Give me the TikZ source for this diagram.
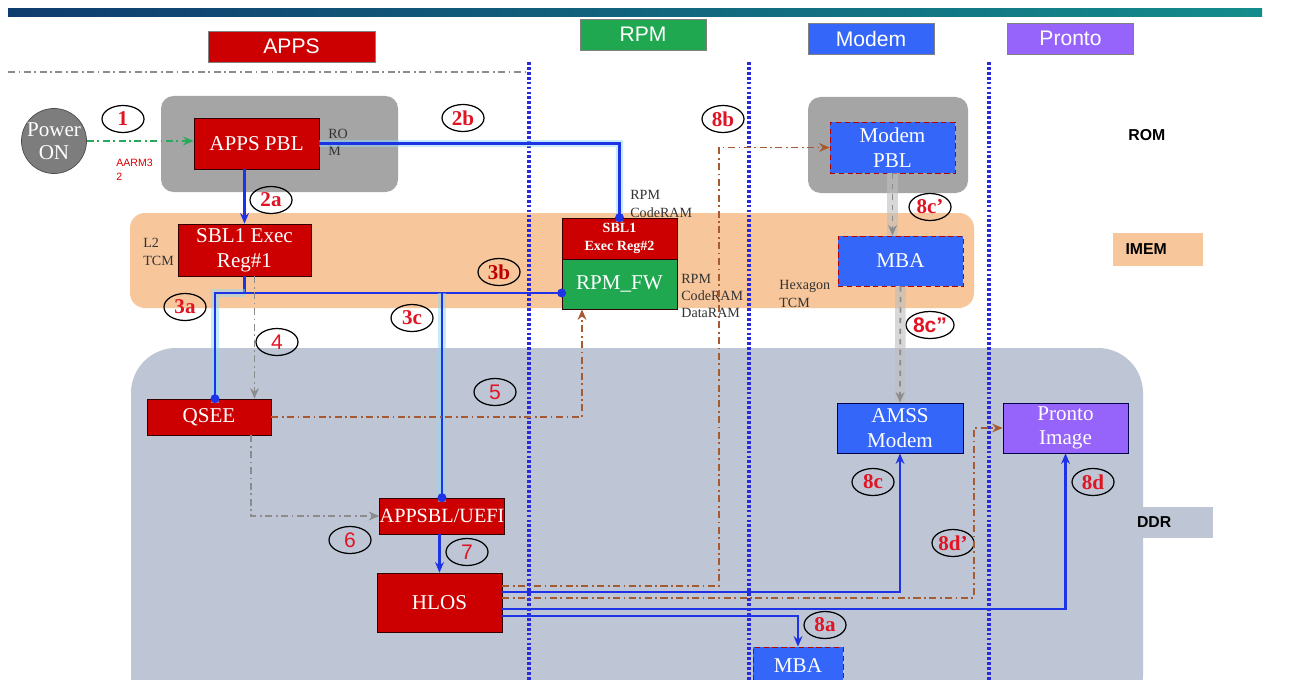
\documentclass[tikz,border=0pt]{standalone}
\usepackage{fontspec}
\setmainfont{Liberation Serif}
\setsansfont{Liberation Sans}
\usetikzlibrary{shapes.geometric,arrows.meta}

\definecolor{appsred}{RGB}{204,0,0}
\definecolor{rpmgreen}{RGB}{32,168,80}
\definecolor{modemblue}{RGB}{52,102,250}
\definecolor{prontopurple}{RGB}{150,100,250}
\definecolor{romgray}{RGB}{165,165,165}
\definecolor{powergray}{RGB}{125,125,125}
\definecolor{imemorange}{RGB}{247,198,155}
\definecolor{ddrgray}{RGB}{190,198,214}
\definecolor{flowbrown}{RGB}{165,90,50}
\definecolor{flowgreen}{RGB}{40,170,90}
\definecolor{flowblue}{RGB}{30,50,230}
\definecolor{lanedot}{RGB}{40,40,220}
\definecolor{barleft}{RGB}{15,60,110}
\definecolor{barright}{RGB}{20,140,140}
\definecolor{numred}{RGB}{225,20,35}

\begin{document}
\begin{tikzpicture}[x=0.02cm, y=-0.02cm]

% definitions
\tikzstyle{header} = [rectangle, minimum width=2.52cm, minimum height=0.62cm, draw=black!50, text=white, font=\sffamily\fontsize{12}{14}\selectfont]

\tikzstyle{redbox} = [rectangle, minimum width=2.5cm, inner sep=1pt, draw=black!80!red, fill=appsred, text=white, align=center, font=\fontsize{12}{14}\selectfont]

\tikzstyle{bluebox} = [rectangle, minimum width=2.5cm, minimum height=1cm, inner sep=1pt, draw=red!70!black, densely dashed, fill=modemblue, text=white, align=center, font=\fontsize{12}{14}\selectfont]

\tikzstyle{ddrbox} = [rectangle, minimum width=2.5cm, minimum height=1cm, inner sep=1pt, draw=black!70!blue, text=white, align=center, font=\fontsize{12}{14}\selectfont]

\tikzstyle{stepno} = [ellipse, draw=black, line width=0.7pt, minimum width=0.84cm, minimum height=0.54cm, inner sep=0pt, text=numred, font=\bfseries\fontsize{12}{12}\selectfont]

\tikzstyle{stepsans} = [stepno, font=\sffamily\fontsize{12}{12}\selectfont]

\tikzstyle{memo} = [inner sep=0pt, anchor=west, align=left, text=black!80, font=\fontsize{8}{10}\selectfont]

\tikzstyle{tier} = [inner sep=0pt, anchor=west, font=\sffamily\bfseries\fontsize{9}{10}\selectfont]

\tikzstyle{lane} = [draw=lanedot, line width=2pt, dash pattern=on 1.6pt off 1.2pt]

\tikzstyle{arrow} = [->,>={Stealth[length=6pt,width=5pt]}]

\tikzstyle{bus} = [draw=flowblue, line width=1.2pt]

\tikzstyle{glow} = [preaction={draw=cyan!45, line width=4.5pt, opacity=0.5, arrows=-}]

\tikzstyle{blobend} = [-{Circle[length=5pt]}, shorten >=-2.5pt]

\tikzstyle{dashdot} = [dash pattern=on 4pt off 2pt on 1pt off 2pt]

\tikzstyle{brownflow} = [draw=flowbrown, line width=0.9pt, dashdot, arrow]

\tikzstyle{grayflow} = [draw=black!45, line width=0.9pt, dashdot, arrow]

\tikzstyle{modemflow} = [draw=black!45, line width=1pt, dashed, arrow, preaction={draw=black!25, line width=6pt, opacity=0.6, arrows=-}]

\useasboundingbox (0,0) rectangle (1290,679);
\clip (0,0) rectangle (1290,679);
\fill [white] (0,0) rectangle (1290,679);


% memory regions
\fill [ddrgray, rounded corners=0.9cm] (131,348) rectangle (1143,720);
\fill [imemorange, rounded corners=0.3cm] (130,213) rectangle (974,308);
\fill [romgray, rounded corners=0.25cm] (161,96) rectangle (398,192);
\fill [romgray, rounded corners=0.25cm] (808,97) rectangle (968,193);

\node (romtag) [tier] at (1128,135) {ROM};
\node (imemtag) [rectangle, fill=imemorange, minimum width=1.8cm, minimum height=0.66cm, inner xsep=0pt, text width=1.3cm, font=\sffamily\bfseries\fontsize{9}{10}\selectfont] at (1158,249.5) {IMEM};
\node (ddrtag) [rectangle, fill=ddrgray, minimum width=1.54cm, minimum height=0.62cm, inner xsep=0pt, text width=1.5cm, font=\sffamily\bfseries\fontsize{9}{10}\selectfont] at (1174.5,522.5) {DDR};


% header
\shade [left color=barleft, right color=barright] (8,9) rectangle (1262,17);

\node (hdrapps) [header, fill=appsred, minimum width=3.34cm] at (291.5,46.5) {APPS};
\node (hdrrpm) [header, fill=rpmgreen] at (643,34.5) {RPM};
\node (hdrmodem) [header, fill=modemblue] at (871,38.5) {Modem};
\node (hdrpronto) [header, fill=prontopurple] at (1070.5,38.5) {Pronto};

\draw [draw=black!45, line width=1.2pt, dashdot] (8,72) -- (529,72);

\foreach \x in {529,749,989}
  \draw [lane] (\x,62) -- (\x,690);


% apps
\node (power) [circle, minimum size=1.2cm, inner sep=0pt, draw=black!70, fill=powergray, text=white, align=center, font=\fontsize{12}{13}\selectfont] at (54,141) {Power\\ON};

\node (pbl) [redbox, minimum height=1.02cm] at (256.5,143.5) {APPS PBL};
\node (sblone) [redbox, minimum width=2.66cm, minimum height=1.04cm] at (244.5,250) {SBL1 Exec\\Reg\#1};
\node (qsee) [redbox, minimum width=2.48cm, minimum height=0.72cm] at (209,417) {QSEE};
\node (appsbl) [redbox, minimum width=2.48cm, minimum height=0.72cm, inner xsep=0pt, font=\fontsize{11.5}{14}\selectfont] at (442,516) {APPSBL/UEFI};
\node (hlos) [redbox, minimum height=1.18cm] at (439.5,602.5) {HLOS};

\node (pblmem) [memo] at (328,142.5) {RO\\M};
\node (aarm) [memo, text=red!85!black, font=\sffamily\fontsize{6}{8}\selectfont] at (116,170) {AARM3\\2};
\node (ltcm) [memo] at (143,252) {L2\\TCM};


% rpm
\node (sbltwo) [redbox, minimum width=2.3cm, minimum height=0.82cm, font=\bfseries\fontsize{8}{10}\selectfont] at (619.5,238.5) {SBL1\\Exec Reg\#2};
\node (rpmfw) [redbox, fill=rpmgreen, minimum width=2.3cm, minimum height=1cm] at (619.5,284) {RPM\_FW};

\node (rpmcode) [memo] at (630,204) {RPM\\CodeRAM};
\node (rpmdata) [memo, font=\fontsize{8}{9.6}\selectfont] at (681,296) {RPM\\CodeRAM\\DataRAM};


% modem and pronto
\node (mpbl) [bluebox, minimum height=1.02cm] at (892.5,147.5) {Modem\\PBL};
\node (mbaimem) [bluebox] at (900.5,261) {MBA};
\node (amss) [ddrbox, fill=modemblue, minimum width=2.52cm] at (900,428) {AMSS\\Modem};
\node (prontoimg) [ddrbox, fill=prontopurple] at (1065.5,428) {Pronto\\Image};
\node (mbaddr) [bluebox, minimum width=1.8cm, minimum height=0.76cm] at (798,666) {MBA};

\node (hextcm) [memo] at (779,294) {Hexagon\\TCM};


% boot steps
\node (sone) [stepno] at (123,119) {1};
\node (stwoa) [stepno] at (271,200) {2a};
\node (stwob) [stepno] at (463,118) {2b};
\node (sthreea) [stepno] at (185,307) {3a};
\node (sthreeb) [stepno, text=red!75!black] at (499,272) {3b};
\node (sthreec) [stepno] at (412,318) {3c};
\node (sfour) [stepsans] at (277,342) {4};
\node (sfive) [stepsans] at (495,392) {5};
\node (ssix) [stepsans] at (350,540) {6};
\node (sseven) [stepsans] at (467,552) {7};
\node (seighta) [stepno] at (825,625) {8a};
\node (seightb) [stepno] at (723,119) {8b};
\node (seightcp) [stepno] at (930,207) {8c'};
\node (seightcpp) [stepsans, font=\sffamily\bfseries\fontsize{12}{12}\selectfont] at (930,325) {8c''};
\node (seightc) [stepno] at (873,482) {8c};
\node (seightd) [stepno] at (1093,482) {8d};
\node (seightdp) [stepno] at (953,543) {8d'};


% connectors
\draw [draw=flowgreen, line width=1pt, dashdot, arrow] (power.east) -- (power.east -| pbl.west);

\draw [bus, arrow] (pbl.south -| sblone.north) -- (sblone.north);
\draw [bus, glow, blobend] (pbl.east) -| (sbltwo.north);

\coordinate (split) at (sblone.south |- 0,293);
\draw [bus] (sblone.south) -- (split);
\draw [bus, glow, blobend] (split) -| ([xshift=0.12cm]qsee.north);
\draw [bus, blobend] (split) -- (split -| rpmfw.west);
\draw [bus, glow, blobend] (split -| appsbl.north) -- (appsbl.north);

\draw [grayflow] ([xshift=0.2cm]sblone.south) -- ([xshift=0.2cm]sblone.south |- qsee.north);
\draw [brownflow] (qsee.east) -| ([xshift=-0.75cm]rpmfw.south);
\draw [grayflow] ([xshift=0.84cm]qsee.south) |- (appsbl.west);
\draw [bus, arrow] (appsbl.south -| hlos.north) -- (hlos.north);

\draw [brownflow] (hlos.east |- 0,586) -- (719,586) |- (mpbl.west);
\draw [bus, arrow] (hlos.east |- 0,592) -| (amss.south);
\draw [brownflow] (hlos.east |- 0,598) -- (974,598) |- (prontoimg.west);
\draw [bus, arrow] (hlos.east |- 0,609) -| (prontoimg.south);
\draw [bus, arrow] (hlos.east |- 0,616) -| (mbaddr.north);

\draw [modemflow] (mpbl.south) -- (mpbl.south |- mbaimem.north);
\draw [modemflow] (mbaimem.south) -- (amss.north);

\end{tikzpicture}
\end{document}
